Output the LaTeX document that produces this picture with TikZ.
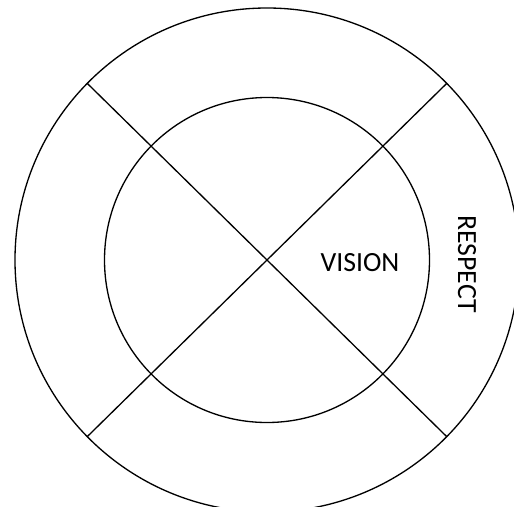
\documentclass[tikz,border=0pt]{standalone}
\usepackage{fontspec}
\setmainfont{Carlito}
\usetikzlibrary{positioning,calc}
\tikzset{
  ring/.style={draw,line width=0.75pt},
  spoke/.style={line width=0.75pt},
  lab/.style={font=\fontsize{15.8}{19}\selectfont,inner sep=0},
}

\begin{document}
\begin{tikzpicture}
  % 1 px of the reference = 0.02 cm, origin at the centre of the rings
  \useasboundingbox (-5.34,-4.92) rectangle (4.94,5.20);
  \clip (-5.34,-4.92) rectangle (4.94,5.20);
  \coordinate (c) at (0,0);
  \draw[ring] (c) circle (5.04);
  \draw[ring] (c) circle (3.25);
  % the two spokes run across the whole outer ring
  \coordinate (ul) at (135.5:5.04); \coordinate (lr) at (315.5:5.04);
  \coordinate (ur) at (44.5:5.04);  \coordinate (ll) at (224.5:5.04);
  \draw[spoke] (ul) -- (lr);
  \draw[spoke] (ur) -- (ll);
  \node[lab] (vision) at (1.86,-0.06) {VISION};
  \node[lab,rotate=-90] (respect) at (4.0,-0.08) {RESPECT};
\end{tikzpicture}
\end{document}
